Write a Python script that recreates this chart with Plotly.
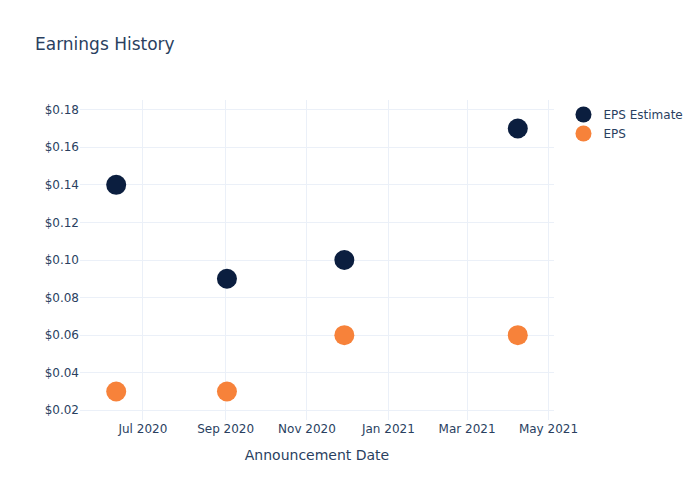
import plotly.graph_objects as go

dates = ["2020-06-11", "2020-09-02", "2020-11-29", "2021-04-08"]
eps_estimate = [0.14, 0.09, 0.10, 0.17]
eps_actual = [0.03, 0.03, 0.06, 0.06]

fig = go.Figure()
fig.add_trace(go.Scatter(x=dates, y=eps_estimate, mode="markers", name="EPS Estimate",
                         marker=dict(size=20, color="#0b1e3f")))
fig.add_trace(go.Scatter(x=dates, y=eps_actual, mode="markers", name="EPS",
                         marker=dict(size=20, color="#f7823a")))
fig.update_layout(
    template="plotly_white",
    width=700, height=500,
    font=dict(family="DejaVu Sans"),
    title=dict(text="Earnings History"),
    xaxis=dict(title=dict(text="Announcement Date")),
    yaxis=dict(tickprefix="$", tickformat=".2f"),
)
fig.write_html("out.html")
